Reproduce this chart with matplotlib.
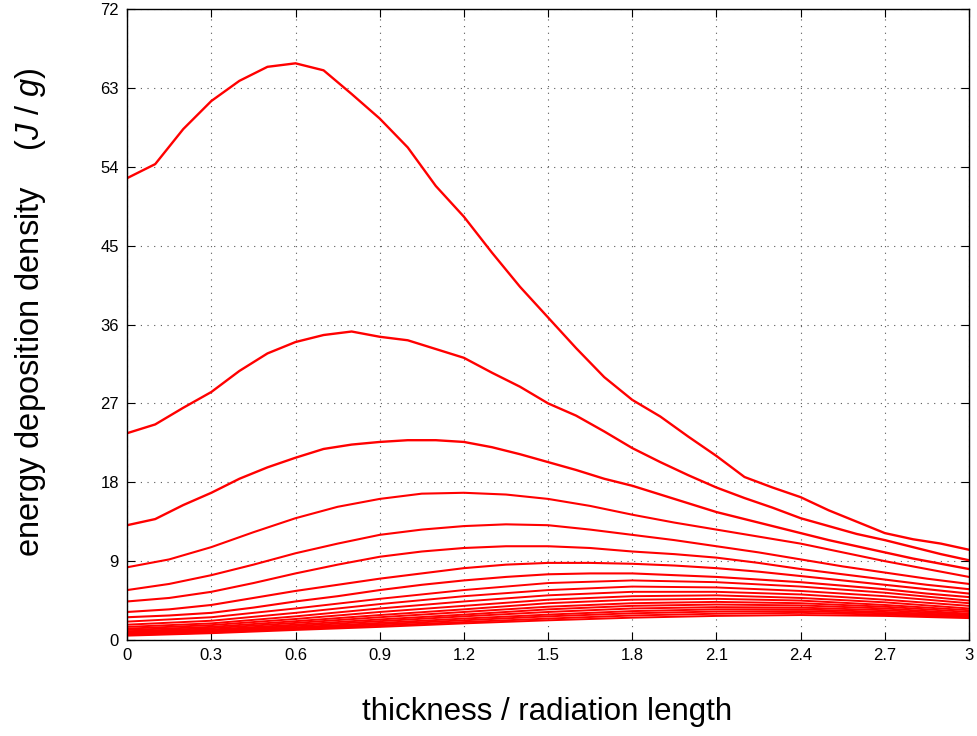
import numpy as np
import matplotlib
matplotlib.use('Agg')
import matplotlib.pyplot as plt
from matplotlib.ticker import FormatStrFormatter

plt.rcParams['font.family'] = ['Liberation Sans', 'DejaVu Sans']
plt.rcParams['mathtext.fontset'] = 'custom'
plt.rcParams['mathtext.it'] = 'Liberation Sans:italic'
plt.rcParams['mathtext.rm'] = 'Liberation Sans'

# fine grid (0.1 steps) for the three upper curves
x_fine = [round(0.1 * i, 1) for i in range(31)]
curve1 = [52.7, 54.3, 58.3, 61.5, 63.8, 65.4, 65.8, 65.0, 62.3, 59.5, 56.2,
          51.8, 48.3, 44.2, 40.3, 36.8, 33.3, 30.0, 27.4, 25.5, 23.2,
          21.0, 18.6, 17.4, 16.3, 14.8, 13.5, 12.2, 11.5, 11.0, 10.3]
curve2 = [23.6, 24.6, 26.5, 28.3, 30.7, 32.7, 34.0, 34.8, 35.2, 34.6, 34.2,
          33.2, 32.2, 30.5, 28.9, 27.0, 25.6, 23.8, 21.9, 20.3, 18.8,
          17.4, 16.2, 15.1, 13.9, 13.0, 12.1, 11.4, 10.6, 9.8, 9.1]
curve3 = [13.1, 13.8, 15.4, 16.8, 18.4, 19.7, 20.8, 21.8, 22.3, 22.6, 22.8,
          22.8, 22.6, 22.0, 21.2, 20.3, 19.4, 18.4, 17.6, 16.6, 15.6,
          14.6, 13.8, 13.0, 12.2, 11.4, 10.7, 10.0, 9.3, 8.7, 8.1]

# 0.15 steps for the middle curves
x_mid = [round(0.15 * i, 2) for i in range(21)]
mid_curves = [
    [8.3, 9.2, 10.6, 12.3, 13.9, 15.2, 16.1, 16.7, 16.8, 16.6, 16.1,
     15.3, 14.3, 13.4, 12.6, 11.8, 11.0, 10.0, 9.0, 8.1, 7.2],
    [5.7, 6.4, 7.4, 8.6, 9.9, 11.0, 12.0, 12.6, 13.0, 13.2, 13.1,
     12.6, 12.0, 11.4, 10.7, 10.0, 9.2, 8.4, 7.7, 7.0, 6.4],
    [4.4, 4.8, 5.5, 6.5, 7.6, 8.6, 9.5, 10.1, 10.5, 10.7, 10.7,
     10.5, 10.1, 9.8, 9.4, 8.8, 8.1, 7.5, 6.9, 6.3, 5.8],
    [3.2, 3.5, 4.0, 4.8, 5.6, 6.3, 7.0, 7.6, 8.2, 8.6, 8.8,
     8.8, 8.7, 8.5, 8.2, 7.8, 7.3, 6.8, 6.3, 5.8, 5.3],
    [2.6, 2.8, 3.1, 3.7, 4.4, 5.0, 5.7, 6.3, 6.8, 7.2, 7.5,
     7.6, 7.6, 7.4, 7.2, 6.9, 6.6, 6.2, 5.8, 5.3, 4.9],
]

# 0.3 steps for the lowest, nearly straight curves
x_coarse = [0, 0.3, 0.6, 0.9, 1.2, 1.5, 1.8, 2.1, 2.4, 2.7, 3.0]
low_curves = [
    [2.1, 2.6, 3.6, 4.7, 5.7, 6.5, 6.8, 6.6, 6.1, 5.4, 4.5],
    [1.75, 2.2, 3.1, 4.1, 5.0, 5.7, 6.1, 6.0, 5.6, 5.0, 4.2],
    [1.5, 1.9, 2.7, 3.6, 4.4, 5.1, 5.5, 5.5, 5.2, 4.6, 3.9],
    [1.3, 1.7, 2.4, 3.2, 3.9, 4.6, 5.0, 5.1, 4.8, 4.3, 3.6],
    [1.15, 1.5, 2.15, 2.85, 3.5, 4.2, 4.6, 4.7, 4.5, 4.0, 3.4],
    [1.0, 1.35, 1.95, 2.6, 3.2, 3.8, 4.2, 4.35, 4.2, 3.8, 3.2],
    [0.9, 1.2, 1.75, 2.35, 2.9, 3.5, 3.9, 4.05, 3.95, 3.6, 3.0],
    [0.8, 1.1, 1.6, 2.15, 2.7, 3.2, 3.6, 3.75, 3.7, 3.4, 2.9],
    [0.72, 1.0, 1.45, 1.95, 2.45, 2.9, 3.3, 3.5, 3.5, 3.2, 2.8],
    [0.65, 0.92, 1.35, 1.8, 2.25, 2.7, 3.05, 3.25, 3.3, 3.05, 2.7],
    [0.58, 0.85, 1.25, 1.65, 2.05, 2.45, 2.8, 3.0, 3.1, 2.9, 2.6],
    [0.5, 0.78, 1.15, 1.5, 1.9, 2.25, 2.55, 2.75, 2.85, 2.75, 2.5],
]

x_ticks = [0, 0.3, 0.6, 0.9, 1.2, 1.5, 1.8, 2.1, 2.4, 2.7, 3.0]
y_ticks = [0, 9, 18, 27, 36, 45, 54, 63, 72]

fig = plt.figure(figsize=(9.78, 7.36), dpi=100)
ax = fig.add_axes([0.13, 0.1304, 0.8608, 0.8574])

for c in [curve1, curve2, curve3]:
    ax.plot(x_fine, c, color='#ff0000', lw=1.7)
for c in mid_curves:
    ax.plot(x_mid, c, color='#ff0000', lw=1.5)
for c in low_curves:
    ax.plot(x_coarse, c, color='#ff0000', lw=1.4)

ax.set_xlim(0, 3)
ax.set_ylim(0, 72)
ax.set_xticks(x_ticks)
ax.set_yticks(y_ticks)
ax.xaxis.set_major_formatter(FormatStrFormatter('%g'))
ax.tick_params(direction='in', length=6, width=0.8, top=True, right=True,
               labelsize=12, pad=6)
ax.grid(True, linestyle=(0, (1, 5)), color='0.35', lw=0.8)
for s in ax.spines.values():
    s.set_linewidth(1.0)

fig.text(0.559, 0.033, 'thickness / radiation length', ha='center', va='center', fontsize=22.5)
fig.text(0.031, 0.576, r'energy deposition density    ($\mathit{J}$ / $\mathit{g}$)',
         ha='center', va='center', rotation=90, fontsize=23.5)

fig.savefig('out.png', dpi=100)
